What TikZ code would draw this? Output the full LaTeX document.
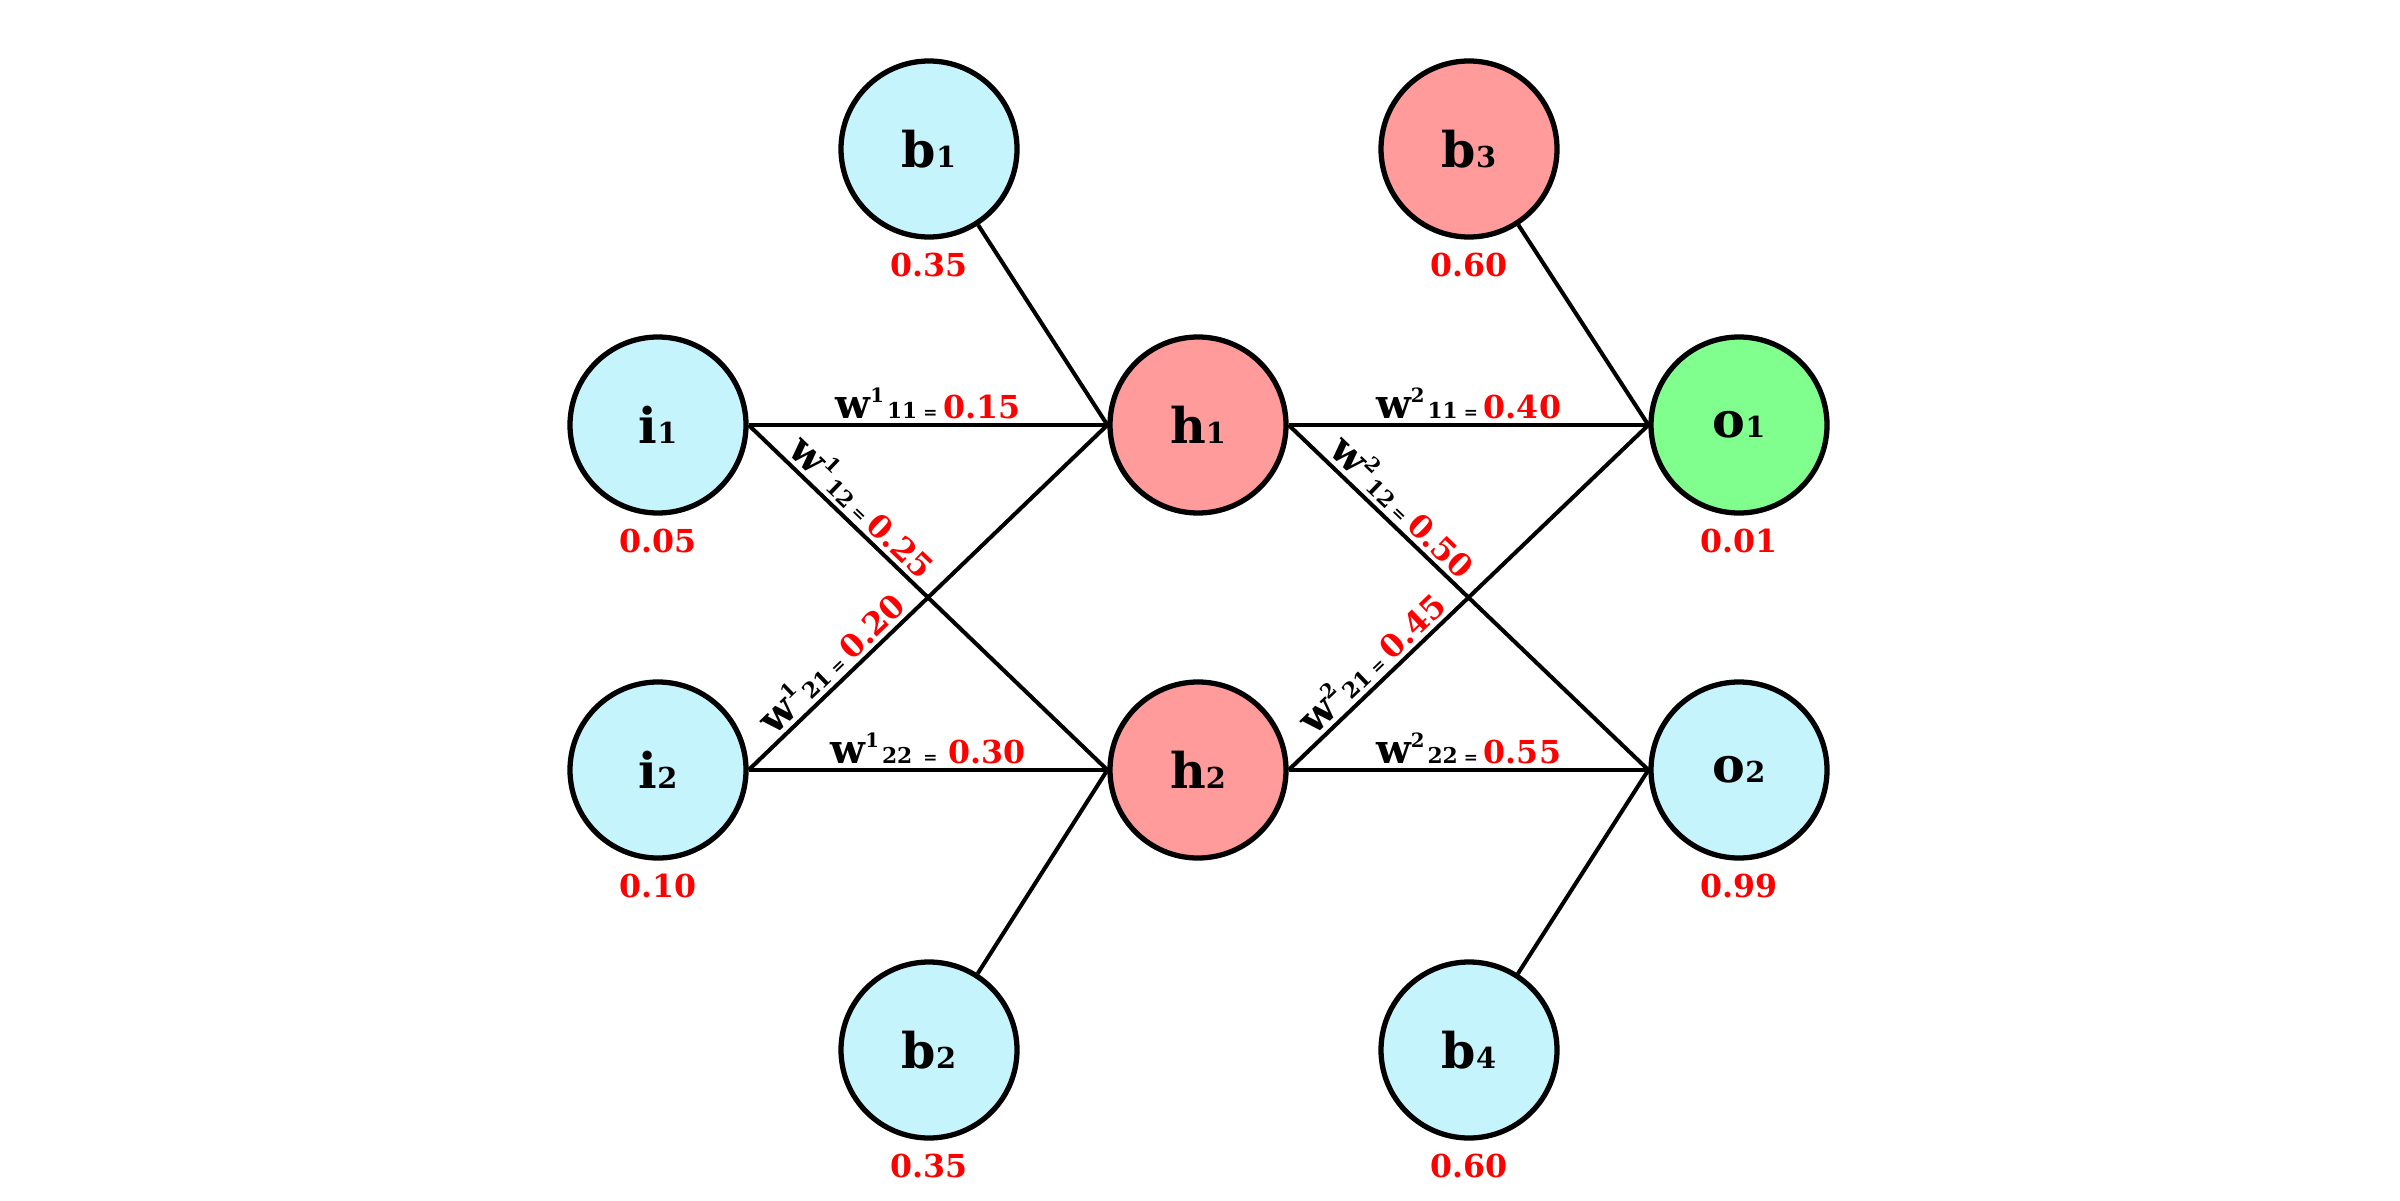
\documentclass[tikz,border=0pt]{standalone}
\usepackage{fontspec}
\setmainfont{DejaVu Serif}
\definecolor{nblue}{HTML}{C5F4FD}
\definecolor{nred}{HTML}{FF9B9A}
\definecolor{ngreen}{HTML}{80FF8F}
\definecolor{vred}{HTML}{FF0000}
% neuron name: big letter with a small index on the baseline
\newcommand\ntxt[2]{{\fontsize{14}{16}\selectfont #1}{\fontsize{8.2}{9}\selectfont #2}}
% weight label: w, layer as superscript, index pair, small "=", red value
\newcommand\wtxt[4][0.6mm]{{\fontsize{11.5}{13}\selectfont w}\raisebox{1.6mm}{\fontsize{5.6}{6}\selectfont #2}\hspace{0.3mm}{\fontsize{6.2}{7}\selectfont #3}\hspace{#1}{\fontsize{4.8}{5}\selectfont =}\hspace{#1}{\fontsize{9}{10}\selectfont\color{vred}#4}}
\begin{document}
\begin{tikzpicture}[x=0.1mm,y=-0.1mm,
  neuron/.style={circle, draw=black, line width=1.5pt, minimum size=17.6mm,
    inner sep=0pt, font=\bfseries},
  val/.style={font=\bfseries\fontsize{9}{10}\selectfont, text=vred, inner sep=0pt},
  label distance=1.3mm,
  edge/.style={draw=black, line width=1.15pt},
  wl/.style={above, inner sep=0.4mm, font=\bfseries}]
\useasboundingbox (0,0) rectangle (2400,1200);

% input layer
\node[neuron, fill=nblue, label={[val]below:0.05}] (i1) at (658,425) {\ntxt{i}{1}};
\node[neuron, fill=nblue, label={[val]below:0.10}] (i2) at (658,770) {\ntxt{i}{2}};
% hidden layer
\node[neuron, fill=nred] (h1) at (1198,425) {\ntxt{h}{1}};
\node[neuron, fill=nred] (h2) at (1198,770) {\ntxt{h}{2}};
% output layer
\node[neuron, fill=ngreen, label={[val]below:0.01}] (o1) at (1739,425) {\ntxt{o}{1}};
\node[neuron, fill=nblue, label={[val]below:0.99}] (o2) at (1739,770) {\ntxt{o}{2}};
% biases
\node[neuron, fill=nblue, label={[val]below:0.35}] (b1) at (929,149) {\ntxt{b}{1}};
\node[neuron, fill=nblue, label={[val]below:0.35}] (b2) at (929,1050) {\ntxt{b}{2}};
\node[neuron, fill=nred, label={[val]below:0.60}] (b3) at (1469,149) {\ntxt{b}{3}};
\node[neuron, fill=nblue, label={[val]below:0.60}] (b4) at (1469,1050) {\ntxt{b}{4}};

% input -> hidden
\draw[edge] (i1.east) -- node[wl, pos=.5] {\wtxt{1}{11}{0.15}} (h1.west);
\draw[edge] (i1.east) -- node[wl, sloped, pos=.28] {\wtxt{1}{12}{0.25}} (h2.west);
\draw[edge] (i2.east) -- node[wl, sloped, pos=.27] {\wtxt{1}{21}{0.20}} (h1.west);
\draw[edge] (i2.east) -- node[wl, pos=.5] {\wtxt[1.1mm]{1}{22}{0.30}} (h2.west);
% hidden -> output
\draw[edge] (h1.east) -- node[wl, pos=.5] {\wtxt{2}{11}{0.40}} (o1.west);
\draw[edge] (h1.east) -- node[wl, sloped, pos=.28] {\wtxt{2}{12}{0.50}} (o2.west);
\draw[edge] (h2.east) -- node[wl, sloped, pos=.27] {\wtxt{2}{21}{0.45}} (o1.west);
\draw[edge] (h2.east) -- node[wl, pos=.5] {\wtxt{2}{22}{0.55}} (o2.west);
% bias connections
\draw[edge] (b1) -- (h1.west);
\draw[edge] (b2) -- (h2.west);
\draw[edge] (b3) -- (o1.west);
\draw[edge] (b4) -- (o2.west);
\end{tikzpicture}
\end{document}
